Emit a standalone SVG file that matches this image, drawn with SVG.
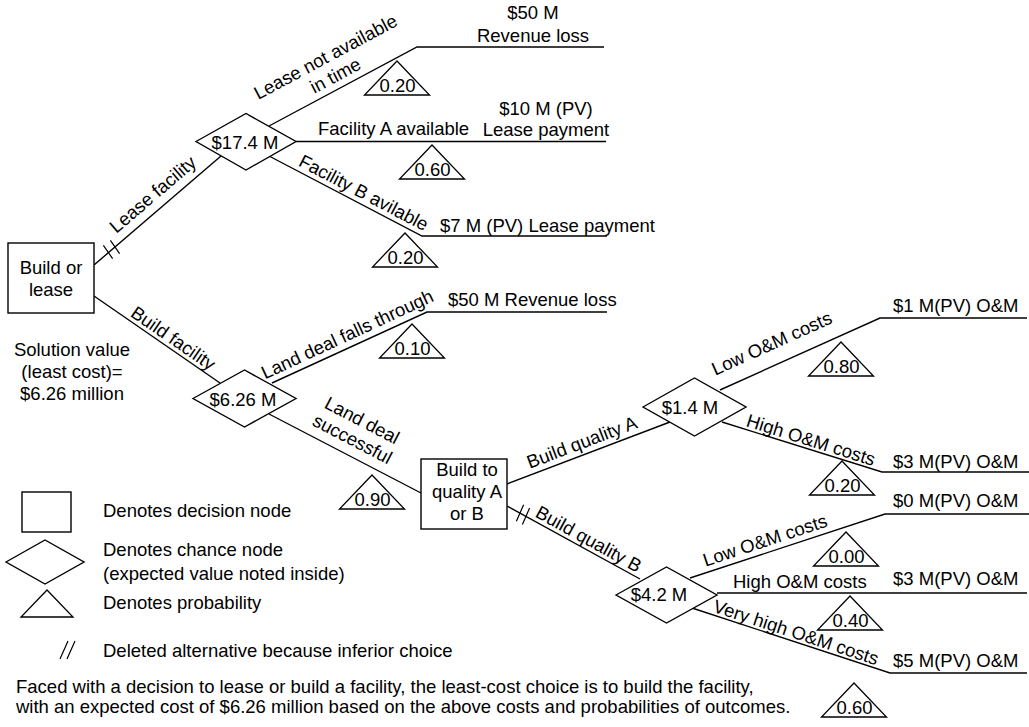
<svg xmlns="http://www.w3.org/2000/svg" xmlns:xlink="http://www.w3.org/1999/xlink" width="1029" height="727" viewBox="0 0 1029 727">
<style>
text{font-family:"Liberation Sans",Arial,Helvetica,sans-serif;font-size:18.5px;fill:#000}
.m{text-anchor:middle}
.ln{fill:none;stroke:#000;stroke-width:1.4}
.nd{fill:#fff;stroke:#000;stroke-width:1.4}
.tri{fill:none;stroke:#000;stroke-width:1.3}
.hs{stroke:#000;stroke-width:1.2}
</style>
<defs>
<path id="tri" d="M0,0 L32.5,34 L-32.5,34 Z"/>
</defs>
<rect width="1029" height="727" fill="#fff"/>
<g id="connectors">
<path class="ln" d="M94,265 L221,156"/>
<path class="ln" d="M269,126 L417,47 L604,47"/>
<path class="ln" d="M296,141.5 L606,141.5"/>
<path class="ln" d="M269,156 L422,236 L607,236"/>
<path class="ln" d="M94,296 L220,383"/>
<path class="ln" d="M272,383 L427,312 L607,312"/>
<path class="ln" d="M269,414 L421,493"/>
<path class="ln" d="M507,484 L670,422"/>
<path class="ln" d="M507,506 L640,579"/>
<path class="ln" d="M720,390 L880,318 L1027,318"/>
<path class="ln" d="M722,422 L882,472 L1029,472"/>
<path class="ln" d="M690,578 L885,514 L1029,514"/>
<path class="ln" d="M717,593 L1027,593"/>
<path class="ln" d="M692,608 L890,673 L1027,673"/>
<g id="deleted-marks">
<path class="hs" d="M103.4,245.4 L112.6,258.6 M110.4,240.4 L119.6,253.6"/>
<path class="hs" d="M516.4,521.3 L523.6,504.7 M522.4,524.6 L529.6,508"/>
</g>
</g>
<g id="edge-labels">
<text class="m" transform="translate(162.8,206) rotate(-40.6)" y="-9">Lease facility</text>
<text class="m" transform="translate(341.7,87.2) rotate(-28.1)" y="-28">Lease not available</text>
<text class="m" transform="translate(341.7,87.2) rotate(-28.1)" y="-7">in time</text>
<text x="318" y="135">Facility A available</text>
<text class="m" transform="translate(358.4,202.7) rotate(27.6)" y="-5">Facility B avilable</text>
<text class="m" transform="translate(167.4,346.7) rotate(34.6)" y="-4">Build facility</text>
<text class="m" transform="translate(352.5,345.6) rotate(-24.9)" y="-6">Land deal falls through</text>
<text class="m" transform="translate(344.9,453.5) rotate(27.5)" y="-31">Land deal</text>
<text class="m" transform="translate(344.9,453.5) rotate(27.5)" y="-10">successful</text>
<text class="m" transform="translate(586.3,453.8) rotate(-20.8)" y="-6">Build quality A</text>
<text class="m" transform="translate(583.7,548.1) rotate(28.8)" y="-4">Build quality B</text>
<text class="m" transform="translate(780.5,362.8) rotate(-24.2)" y="-15">Low O&amp;M costs</text>
<text class="m" transform="translate(808.2,448.9) rotate(17.4)" y="-3">High O&amp;M costs</text>
<text class="m" transform="translate(768.9,552.1) rotate(-18.2)" y="-6">Low O&amp;M costs</text>
<text x="733" y="588">High O&amp;M costs</text>
<text class="m" transform="translate(793,641.2) rotate(18.2)" y="-3">Very high O&amp;M costs</text>
</g>
<g id="outcomes">
<text class="m" x="533" y="19">$50 M</text>
<text class="m" x="533" y="42">Revenue loss</text>
<text class="m" x="546" y="115">$10 M (PV)</text>
<text class="m" x="546" y="136">Lease payment</text>
<text x="440" y="232">$7 M (PV) Lease payment</text>
<text x="448" y="306">$50 M Revenue loss</text>
<text x="893" y="312">$1 M(PV) O&amp;M</text>
<text x="893" y="468">$3 M(PV) O&amp;M</text>
<text x="893" y="507">$0 M(PV) O&amp;M</text>
<text x="893" y="585">$3 M(PV) O&amp;M</text>
<text x="893" y="667">$5 M(PV) O&amp;M</text>
</g>
<g id="probabilities">
<g transform="translate(397,61)"><use xlink:href="#tri" href="#tri" class="tri"/><text class="m" x="0.5" y="31">0.20</text></g>
<g transform="translate(432,145)"><use xlink:href="#tri" href="#tri" class="tri"/><text class="m" x="0.5" y="31">0.60</text></g>
<g transform="translate(405,233)"><use xlink:href="#tri" href="#tri" class="tri"/><text class="m" x="0.5" y="31">0.20</text></g>
<g transform="translate(412,324)"><use xlink:href="#tri" href="#tri" class="tri"/><text class="m" x="0.5" y="31">0.10</text></g>
<g transform="translate(372,475)"><use xlink:href="#tri" href="#tri" class="tri"/><text class="m" x="0.5" y="31">0.90</text></g>
<g transform="translate(841,342)"><use xlink:href="#tri" href="#tri" class="tri"/><text class="m" x="0.5" y="31">0.80</text></g>
<g transform="translate(842,461)"><use xlink:href="#tri" href="#tri" class="tri"/><text class="m" x="0.5" y="31">0.20</text></g>
<g transform="translate(846,532)"><use xlink:href="#tri" href="#tri" class="tri"/><text class="m" x="0.5" y="31">0.00</text></g>
<g transform="translate(850,596)"><use xlink:href="#tri" href="#tri" class="tri"/><text class="m" x="0.5" y="31">0.40</text></g>
<g transform="translate(854,683)"><use xlink:href="#tri" href="#tri" class="tri"/><text class="m" x="0.5" y="31">0.60</text></g>
</g>
<g id="node-build-or-lease">
<rect class="nd" x="8" y="243" width="86" height="70"/>
<text class="m" x="51" y="274">Build or</text>
<text class="m" x="51" y="296">lease</text>
</g>
<g id="node-17-4">
<polygon class="nd" points="196,141.5 246,113.5 296,141.5 246,170"/>
<text class="m" x="245" y="149">$17.4 M</text>
</g>
<g id="node-6-26">
<polygon class="nd" points="193,398.5 244.5,370 296,398.5 244.5,427"/>
<text class="m" x="243" y="406">$6.26 M</text>
</g>
<g id="node-build-to">
<rect class="nd" x="421" y="459" width="86" height="70"/>
<text class="m" x="467" y="476">Build to</text>
<text class="m" x="467" y="498">quality A</text>
<text class="m" x="467" y="520">or B</text>
</g>
<g id="node-1-4">
<polygon class="nd" points="643,407 694.5,378 746,407 694.5,436"/>
<text class="m" x="690" y="414">$1.4 M</text>
</g>
<g id="node-4-2">
<polygon class="nd" points="616,595 666.5,567 717,595 666.5,623"/>
<text class="m" x="659" y="601">$4.2 M</text>
</g>
<g id="solution">
<text class="m" x="72" y="356">Solution value</text>
<text class="m" x="72" y="378">(least cost)=</text>
<text class="m" x="72" y="400">$6.26 million</text>
</g>
<g id="legend">
<rect class="nd" x="22" y="492" width="49" height="40"/>
<polygon class="nd" points="6,562 45,540 84,562 45,584"/>
<polygon class="tri" points="47,590 73,617 21,617"/>
<path class="hs" d="M60,659 L68,641 M67,659 L75,641"/>
<text x="103" y="517">Denotes decision node</text>
<text x="103" y="556">Denotes chance node</text>
<text x="103" y="580">(expected value noted inside)</text>
<text x="103" y="609">Denotes probability</text>
<text x="103" y="657">Deleted alternative because inferior choice</text>
</g>
<g id="caption">
<text x="16" y="693">Faced with a decision to lease or build a facility, the least-cost choice is to build the facility,</text>
<text x="16" y="713">with an expected cost of $6.26 million based on the above costs and probabilities of outcomes.</text>
</g>
</svg>
